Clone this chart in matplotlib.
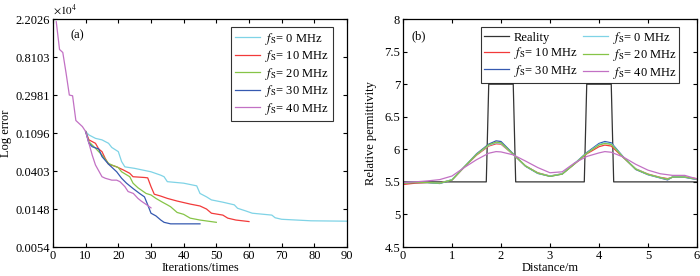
import numpy as np
import matplotlib
matplotlib.use('Agg')
from matplotlib import pyplot as plt

plt.rcParams['font.family'] = ['Liberation Serif', 'DejaVu Serif']
plt.rcParams['mathtext.fontset'] = 'stix'
plt.rcParams['font.size'] = 9

# ---- (a) log error versus iteration (values read as ln(error)) ----
it_0 = [10, 11, 13, 15, 17, 18, 20, 21, 22, 25, 30, 33, 34, 35, 40, 44, 45, 47, 48.5,
        52, 55.5, 56.5, 59, 61, 67, 68, 70, 79, 90]
err_0 = [7.04, 6.95, 6.86, 6.82, 6.73, 6.62, 6.51, 6.25, 6.11, 6.07, 5.98, 5.89, 5.85,
         5.72, 5.68, 5.61, 5.41, 5.32, 5.24, 5.18, 5.11, 5.02, 4.95, 4.89, 4.84, 4.77,
         4.73, 4.69, 4.68]
it_10 = [10, 11, 13, 14, 15, 16, 17, 19.5, 21.5, 23.5, 24.5, 28, 29, 30, 31, 33, 35, 38,
         42, 45, 47, 48.5, 52, 53.5, 56, 60]
err_10 = [7.04, 6.82, 6.73, 6.58, 6.51, 6.33, 6.18, 6.11, 6.03, 5.94, 5.85, 5.83, 5.82,
          5.59, 5.39, 5.34, 5.28, 5.21, 5.13, 5.08, 5.0, 4.89, 4.84, 4.76, 4.71, 4.67]
it_20 = [10, 11, 13, 15, 17, 18, 20, 21, 23.5, 24.5, 26, 28.5, 30, 31.5, 33.5, 35, 36,
         38, 40, 42, 45, 50]
err_20 = [7.04, 6.77, 6.60, 6.42, 6.20, 6.16, 6.09, 5.98, 5.85, 5.68, 5.56, 5.41, 5.37,
          5.28, 5.18, 5.11, 5.06, 4.91, 4.86, 4.76, 4.71, 4.65]
it_30 = [10, 11, 12, 14, 15, 17, 19.5, 21, 22.5, 24.5, 26.5, 28, 29, 30, 31.5, 33, 34,
         36, 45]
err_30 = [7.04, 6.73, 6.64, 6.58, 6.38, 6.18, 5.98, 5.81, 5.68, 5.54, 5.41, 5.32, 5.11,
          4.89, 4.82, 4.71, 4.65, 4.61, 4.61]
it_40 = [1, 2, 3, 4, 5, 6, 7, 8, 9, 10, 11, 12, 13, 15, 16, 18, 19.5, 20.5, 22, 23, 24.6,
         26, 27, 28.7, 30]
err_40 = [9.93, 9.2, 9.12, 8.58, 8.0, 7.98, 7.33, 7.25, 7.17, 7.04, 6.73, 6.42, 6.16,
          5.85, 5.81, 5.76, 5.76, 5.72, 5.59, 5.46, 5.41, 5.28, 5.21, 5.11, 5.03]
log_ticks = [4, 5, 6, 7, 8, 9, 10]
log_tick_labels = ['0.0054', '0.0148', '0.0403', '0.1096', '0.2981', '0.8103', '2.2026']

# ---- (b) permittivity profiles ----
dist = [0, 0.25, 0.5, 0.75, 1.0, 1.25, 1.5, 1.75, 1.9, 2.0, 2.25, 2.5, 2.75, 3.0, 3.25,
        3.5, 3.75, 4.0, 4.12, 4.25, 4.5, 4.75, 5.0, 5.25, 5.4, 5.5, 5.75, 6.0]
eps_0 = [5.49, 5.495, 5.49, 5.48, 5.535, 5.73, 5.92, 6.06, 6.10, 6.09, 5.92, 5.745, 5.635,
         5.59, 5.625, 5.78, 5.94, 6.075, 6.10, 6.085, 5.875, 5.70, 5.615, 5.565, 5.54,
         5.575, 5.575, 5.54]
eps_10 = [5.46, 5.48, 5.49, 5.485, 5.53, 5.725, 5.91, 6.05, 6.085, 6.08, 5.92, 5.745, 5.64,
          5.59, 5.625, 5.775, 5.93, 6.04, 6.065, 6.05, 5.87, 5.70, 5.62, 5.57, 5.55, 5.57,
          5.575, 5.55]
eps_20 = [5.48, 5.49, 5.49, 5.48, 5.53, 5.73, 5.92, 6.07, 6.11, 6.10, 5.925, 5.745, 5.635,
          5.585, 5.62, 5.775, 5.94, 6.065, 6.09, 6.075, 5.875, 5.695, 5.615, 5.565, 5.54,
          5.575, 5.575, 5.54]
eps_30 = [5.485, 5.49, 5.49, 5.475, 5.53, 5.73, 5.93, 6.08, 6.13, 6.12, 5.93, 5.74, 5.63,
          5.585, 5.62, 5.78, 5.95, 6.09, 6.12, 6.10, 5.88, 5.69, 5.61, 5.56, 5.53, 5.575,
          5.57, 5.535]
eps_40 = [5.49, 5.50, 5.515, 5.535, 5.59, 5.72, 5.84, 5.94, 5.965, 5.96, 5.915, 5.82, 5.72,
          5.64, 5.655, 5.79, 5.89, 5.945, 5.965, 5.955, 5.88, 5.77, 5.68, 5.625, 5.61, 5.60,
          5.60, 5.545]
real_x = [0, 1.7, 1.75, 2.25, 2.3, 3.7, 3.75, 4.25, 4.3, 6]
real_eps = [5.5, 5.5, 7, 7, 5.5, 5.5, 7, 7, 5.5, 5.5]

cols = {'0': '#7fd3e6', '10': '#f23a3a', '20': '#86c447', '30': '#3559b0', '40': '#c271c4'}
lab = lambda f: r'$f_\mathrm{S}$= %s MHz' % f

fig = plt.figure(figsize=(7, 2.76), dpi=100)
ax1 = fig.add_axes([0.0757, 0.105, 0.42, 0.826])
ax2 = fig.add_axes([0.5757, 0.105, 0.42, 0.826])

lw = 0.9
ax1.plot(it_0, err_0, color=cols['0'], lw=lw, label=lab('0'))
ax1.plot(it_10, err_10, color=cols['10'], lw=lw, label=lab('10'))
ax1.plot(it_20, err_20, color=cols['20'], lw=lw, label=lab('20'))
ax1.plot(it_30, err_30, color=cols['30'], lw=lw, label=lab('30'))
ax1.plot(it_40, err_40, color=cols['40'], lw=lw, label=lab('40'))
ax1.set_xlim(0, 90)
ax1.set_ylim(4, 10)
ax1.set_xticks(range(0, 91, 10))
ax1.set_yticks(log_ticks)
ax1.set_yticklabels(log_tick_labels)
ax1.set_xlabel('Iterations/times', labelpad=0)
ax1.set_ylabel('Log error')
ax1.yaxis.set_label_coords(-0.138, 0.5)
ax1.text(0.0, 1.01, r'$\times10^4$', transform=ax1.transAxes, fontsize=8, va='bottom')
ax1.text(0.058, 0.93, '(a)', transform=ax1.transAxes, va='center')
leg1 = ax1.legend(loc='upper right', bbox_to_anchor=(0.952, 0.965), borderaxespad=0,
                  fancybox=False, handlelength=2.0, labelspacing=0.12, borderpad=0.3,
                  handletextpad=0.4)
leg1.get_frame().set_edgecolor('black')
leg1.get_frame().set_linewidth(0.8)

ax2.plot(real_x, real_eps, color='#333333', lw=lw, label='Reality')
ax2.plot(dist, eps_10, color=cols['10'], lw=lw, label=lab('10'))
ax2.plot(dist, eps_30, color=cols['30'], lw=lw, label=lab('30'))
ax2.plot(dist, eps_0, color=cols['0'], lw=lw, label=lab('0'))
ax2.plot(dist, eps_20, color=cols['20'], lw=lw, label=lab('20'))
ax2.plot(dist, eps_40, color=cols['40'], lw=lw, label=lab('40'))
ax2.set_xlim(0, 6)
ax2.set_ylim(4.5, 8)
ax2.set_xticks(range(0, 7))
ax2.set_yticks([4.5, 5, 5.5, 6, 6.5, 7, 7.5, 8])
ax2.set_yticklabels(['4.5', '5', '5.5', '6', '6.5', '7', '7.5', '8'])
ax2.set_xlabel('Distance/m', labelpad=0)
ax2.set_ylabel('Relative permittivity')
ax2.yaxis.set_label_coords(-0.088, 0.5)
ax2.text(0.03, 0.925, '(b)', transform=ax2.transAxes, va='center')
leg2 = ax2.legend(loc='upper right', bbox_to_anchor=(0.939, 0.965), borderaxespad=0,
                  ncol=2, fancybox=False, handlelength=2.0, labelspacing=0.12,
                  borderpad=0.2, handletextpad=0.4, columnspacing=0.4)
leg2.get_frame().set_edgecolor('black')
leg2.get_frame().set_linewidth(0.8)

for ax in (ax1, ax2):
    ax.tick_params(direction='in', top=True, right=True, length=3, width=0.8, pad=2)
    for s in ax.spines.values():
        s.set_linewidth(0.9)

fig.savefig('out.png', dpi=100)
